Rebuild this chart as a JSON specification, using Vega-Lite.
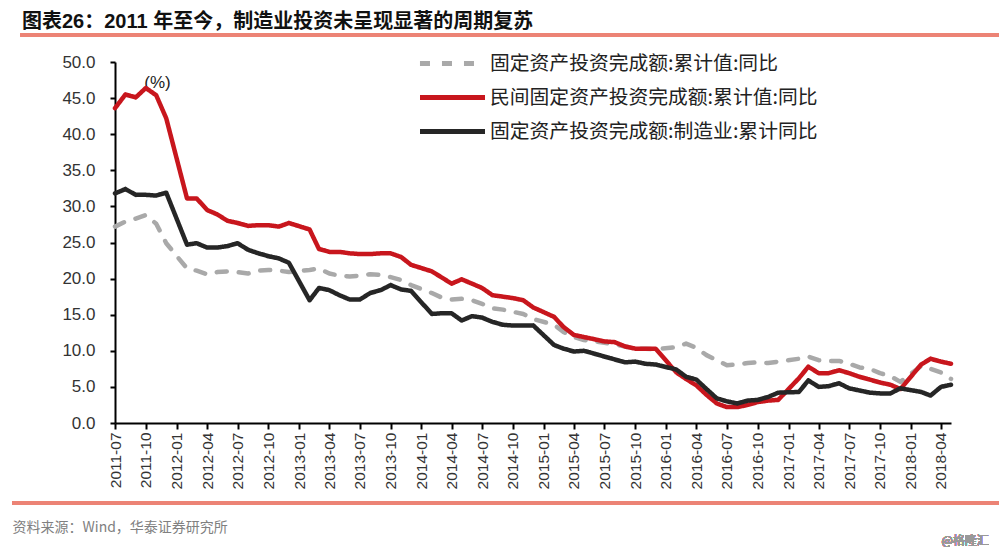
{
  "$schema": "https://vega.github.io/schema/vega-lite/v6.json",
  "width": 836,
  "height": 361,
  "autosize": {"type": "none"},
  "padding": {"left": 115, "top": 62, "right": 48, "bottom": 126},
  "background": "white",
  "config": {
    "view": {"stroke": null},
    "font": "Liberation Sans, Noto Sans CJK SC, sans-serif",
    "axisY": {"labelOverlap": false, "tickCount": 10, "labelSeparation": 0}
  },
  "title": {
    "text": "图表26：2011 年至今，制造业投资未呈现显著的周期复苏",
    "anchor": "start",
    "frame": "group",
    "dx": -93,
    "dy": 22,
    "offset": 4,
    "baseline": "bottom",
    "fontSize": 20,
    "fontWeight": "bold",
    "color": "#111111",
    "font": "Liberation Sans, Noto Sans CJK SC"
  },
  "data": {
    "values": [
      {"d": "2011/07/01", "a": 27.2, "b": 43.6, "c": 31.8},
      {"d": "2011/08/01", "a": 27.9, "b": 45.5, "c": 32.4},
      {"d": "2011/09/01", "a": 28.3, "b": 45.1, "c": 31.6},
      {"d": "2011/10/01", "a": 28.8, "b": 46.4, "c": 31.6},
      {"d": "2011/11/01", "a": 27.6, "b": 45.4, "c": 31.5},
      {"d": "2011/12/01", "a": 24.9, "b": 42.2, "c": 31.9},
      {"d": "2012/02/01", "a": 21.4, "b": 31.1, "c": 24.7},
      {"d": "2012/03/01", "a": 21.1, "b": 31.1, "c": 24.9},
      {"d": "2012/04/01", "a": 20.6, "b": 29.5, "c": 24.3},
      {"d": "2012/05/01", "a": 20.9, "b": 28.9, "c": 24.3},
      {"d": "2012/06/01", "a": 21.0, "b": 28.0, "c": 24.5},
      {"d": "2012/07/01", "a": 20.9, "b": 27.7, "c": 24.9},
      {"d": "2012/08/01", "a": 20.7, "b": 27.3, "c": 24.0},
      {"d": "2012/09/01", "a": 21.1, "b": 27.4, "c": 23.5},
      {"d": "2012/10/01", "a": 21.2, "b": 27.4, "c": 23.1},
      {"d": "2012/11/01", "a": 21.1, "b": 27.2, "c": 22.8},
      {"d": "2012/12/01", "a": 20.9, "b": 27.7, "c": 22.2},
      {"d": "2013/02/01", "a": 21.2, "b": 26.8, "c": 17.0},
      {"d": "2013/03/01", "a": 21.4, "b": 24.1, "c": 18.7},
      {"d": "2013/04/01", "a": 20.7, "b": 23.7, "c": 18.4},
      {"d": "2013/05/01", "a": 20.4, "b": 23.7, "c": 17.7},
      {"d": "2013/06/01", "a": 20.3, "b": 23.5, "c": 17.1},
      {"d": "2013/07/01", "a": 20.4, "b": 23.4, "c": 17.1},
      {"d": "2013/08/01", "a": 20.6, "b": 23.4, "c": 18.0},
      {"d": "2013/09/01", "a": 20.5, "b": 23.5, "c": 18.4},
      {"d": "2013/10/01", "a": 20.2, "b": 23.5, "c": 19.1},
      {"d": "2013/11/01", "a": 19.8, "b": 23.0, "c": 18.5},
      {"d": "2013/12/01", "a": 19.1, "b": 21.9, "c": 18.3},
      {"d": "2014/02/01", "a": 18.0, "b": 21.0, "c": 15.1},
      {"d": "2014/03/01", "a": 17.4, "b": 20.2, "c": 15.2},
      {"d": "2014/04/01", "a": 17.1, "b": 19.3, "c": 15.2},
      {"d": "2014/05/01", "a": 17.2, "b": 19.9, "c": 14.2},
      {"d": "2014/06/01", "a": 17.0, "b": 19.3, "c": 14.8},
      {"d": "2014/07/01", "a": 16.5, "b": 18.7, "c": 14.6},
      {"d": "2014/08/01", "a": 15.9, "b": 17.7, "c": 14.0},
      {"d": "2014/09/01", "a": 15.7, "b": 17.5, "c": 13.6},
      {"d": "2014/10/01", "a": 15.4, "b": 17.3, "c": 13.5},
      {"d": "2014/11/01", "a": 15.1, "b": 17.0, "c": 13.5},
      {"d": "2014/12/01", "a": 14.4, "b": 16.0, "c": 13.5},
      {"d": "2015/02/01", "a": 13.6, "b": 14.7, "c": 10.8},
      {"d": "2015/03/01", "a": 12.6, "b": 13.3, "c": 10.3},
      {"d": "2015/04/01", "a": 11.9, "b": 12.2, "c": 9.9},
      {"d": "2015/05/01", "a": 11.5, "b": 11.9, "c": 10.0},
      {"d": "2015/06/01", "a": 11.3, "b": 11.6, "c": 9.6},
      {"d": "2015/07/01", "a": 11.1, "b": 11.3, "c": 9.2},
      {"d": "2015/08/01", "a": 10.9, "b": 11.2, "c": 8.8},
      {"d": "2015/09/01", "a": 10.6, "b": 10.6, "c": 8.4},
      {"d": "2015/10/01", "a": 10.3, "b": 10.3, "c": 8.5},
      {"d": "2015/11/01", "a": 10.3, "b": 10.3, "c": 8.2},
      {"d": "2015/12/01", "a": 10.2, "b": 10.3, "c": 8.1},
      {"d": "2016/02/01", "a": 10.5, "b": 7.0, "c": 7.4},
      {"d": "2016/03/01", "a": 11.0, "b": 6.1, "c": 6.4},
      {"d": "2016/04/01", "a": 10.4, "b": 5.2, "c": 6.0},
      {"d": "2016/05/01", "a": 9.4, "b": 3.9, "c": 4.7},
      {"d": "2016/06/01", "a": 8.7, "b": 2.7, "c": 3.4},
      {"d": "2016/07/01", "a": 8.0, "b": 2.2, "c": 3.0},
      {"d": "2016/08/01", "a": 8.1, "b": 2.2, "c": 2.7},
      {"d": "2016/09/01", "a": 8.3, "b": 2.5, "c": 3.1},
      {"d": "2016/10/01", "a": 8.4, "b": 2.9, "c": 3.2},
      {"d": "2016/11/01", "a": 8.3, "b": 3.1, "c": 3.6},
      {"d": "2016/12/01", "a": 8.5, "b": 3.2, "c": 4.2},
      {"d": "2017/02/01", "a": 8.9, "b": 6.2, "c": 4.3},
      {"d": "2017/03/01", "a": 9.2, "b": 7.8, "c": 5.9},
      {"d": "2017/04/01", "a": 8.7, "b": 6.9, "c": 5.0},
      {"d": "2017/05/01", "a": 8.6, "b": 6.9, "c": 5.1},
      {"d": "2017/06/01", "a": 8.6, "b": 7.3, "c": 5.5},
      {"d": "2017/07/01", "a": 8.2, "b": 6.9, "c": 4.8},
      {"d": "2017/08/01", "a": 7.7, "b": 6.4, "c": 4.5},
      {"d": "2017/09/01", "a": 7.5, "b": 6.0, "c": 4.2},
      {"d": "2017/10/01", "a": 6.9, "b": 5.6, "c": 4.1},
      {"d": "2017/11/01", "a": 6.5, "b": 5.3, "c": 4.1},
      {"d": "2017/12/01", "a": 5.7, "b": 4.7, "c": 4.8},
      {"d": "2018/02/01", "a": 7.9, "b": 8.1, "c": 4.3},
      {"d": "2018/03/01", "a": 7.5, "b": 8.9, "c": 3.8},
      {"d": "2018/04/01", "a": 7.0, "b": 8.5, "c": 5.0},
      {"d": "2018/05/01", "a": 6.1, "b": 8.2, "c": 5.3}
    ]
  },
  "layer": [
    {
      "transform": [{"fold": ["a", "b", "c"], "as": ["s", "v"]}],
      "mark": {"type": "line", "strokeWidth": 4.5, "strokeCap": "round", "strokeJoin": "round"},
      "encoding": {
        "x": {
          "field": "d",
          "type": "temporal",
          "scale": {"domain": [{"year": 2011, "month": 7, "date": 1}, {"year": 2018, "month": 5, "date": 1}], "nice": false},
          "axis": {
            "tickCount": {"interval": "month", "step": 3},
            "format": "%Y-%m",
            "labelAngle": -90,
            "labelFontSize": 15.5,
            "labelColor": "#333333",
            "labelPadding": 3,
            "labelFlush": false,
            "labelOverlap": false,
            "tickSize": 6,
            "tickWidth": 2,
            "tickColor": "#000000",
            "domainColor": "#000000",
            "domainWidth": 2,
            "grid": false,
            "title": "资料来源：Wind，华泰证券研究所",
            "titleX": -103,
            "titleY": 104,
            "titleAlign": "left",
            "titleBaseline": "middle",
            "titleFontSize": 14,
            "titleFontWeight": "normal",
            "titleColor": "#808080",
            "titleFont": "Noto Sans CJK SC"
          }
        },
        "y": {
          "field": "v",
          "type": "quantitative",
          "scale": {"domain": [0, 50], "nice": false},
          "axis": {
            "tickCount": 10,
            "format": ".1f",
            "labelOverlap": false,
            "labelSeparation": 0,
            "labelFontSize": 17,
            "labelColor": "#333333",
            "labelPadding": 15,
            "tickSize": 5,
            "tickWidth": 2,
            "tickColor": "#000000",
            "domainColor": "#000000",
            "domainWidth": 2,
            "grid": false,
            "title": "(%)",
            "titleAngle": 0,
            "titleX": 42,
            "titleY": 20,
            "titleAlign": "center",
            "titleBaseline": "middle",
            "titleFontSize": 17,
            "titleFontWeight": "normal",
            "titleColor": "#222222"
          }
        },
        "color": {
          "field": "s",
          "type": "nominal",
          "scale": {"domain": ["a", "b", "c"], "range": ["#A9A9A9", "#C8161D", "#262626"]},
          "legend": {
            "orient": "none",
            "legendX": 324,
            "legendY": -12,
            "title": null,
            "symbolType": "M-3,0H3",
            "symbolSize": 470,
            "symbolStrokeWidth": 5,
            "rowPadding": 10,
            "labelFontSize": 19.8,
            "labelFont": "Noto Sans CJK SC",
            "labelColor": "#222222",
            "labelOffset": 24,
            "labelLimit": 500,
            "labelExpr": "datum.value == 'a' ? '固定资产投资完成额:累计值:同比' : datum.value == 'b' ? '民间固定资产投资完成额:累计值:同比' : '固定资产投资完成额:制造业:累计同比'"
          }
        },
        "strokeDash": {
          "field": "s",
          "type": "nominal",
          "scale": {"domain": ["a", "b", "c"], "range": [[10, 12], [1, 0], [1, 0]]},
          "legend": {
            "orient": "none",
            "legendX": 324,
            "legendY": -12,
            "title": null,
            "symbolType": "M-3,0H3",
            "symbolSize": 470,
            "symbolStrokeWidth": 5,
            "rowPadding": 10,
            "labelFontSize": 19.8,
            "labelFont": "Noto Sans CJK SC",
            "labelColor": "#222222",
            "labelOffset": 24,
            "labelLimit": 500,
            "labelExpr": "datum.value == 'a' ? '固定资产投资完成额:累计值:同比' : datum.value == 'b' ? '民间固定资产投资完成额:累计值:同比' : '固定资产投资完成额:制造业:累计同比'"
          }
        }
      }
    },
    {
      "mark": {"type": "rule", "color": "#EC8376", "strokeWidth": 2.5},
      "encoding": {
        "x": {"datum": {"year": 2010, "month": 9, "date": 21}, "type": "temporal"},
        "x2": {"datum": {"year": 2018, "month": 9, "date": 25}},
        "y": {"datum": 53.74, "type": "quantitative"}
      }
    },
    {
      "mark": {"type": "rule", "color": "#EC8376", "strokeWidth": 2.5},
      "encoding": {
        "x": {"datum": {"year": 2010, "month": 8, "date": 28}, "type": "temporal"},
        "x2": {"datum": {"year": 2018, "month": 9, "date": 25}},
        "y": {"datum": -11.08, "type": "quantitative"}
      }
    },
    {
      "mark": {"type": "text", "text": "@格隆汇", "fontSize": 12, "color": "#999999", "align": "center", "baseline": "middle", "font": "Noto Sans CJK SC"},
      "encoding": {
        "x": {"datum": {"year": 2018, "month": 6, "date": 12}, "type": "temporal"},
        "y": {"datum": -16.3, "type": "quantitative"}
      }
    }
  ]
}
